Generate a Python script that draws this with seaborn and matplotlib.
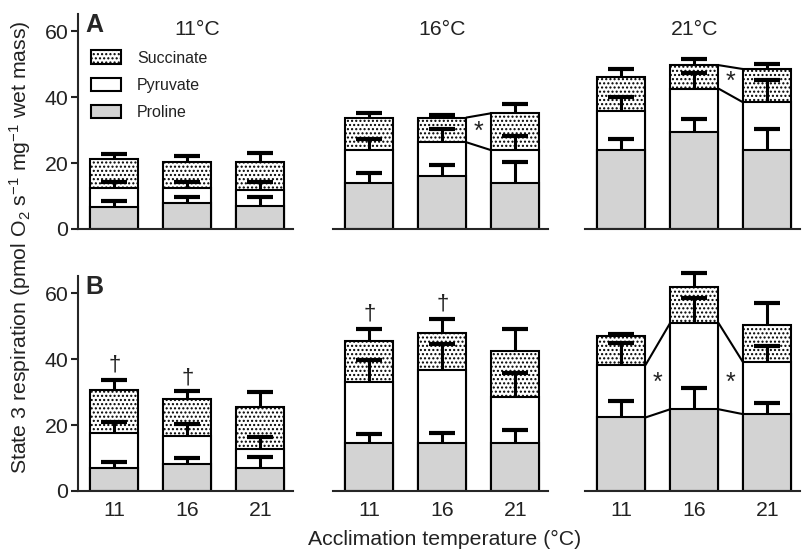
import numpy as np
import pandas as pd
import matplotlib
matplotlib.use("Agg")
import matplotlib.pyplot as plt
import matplotlib.patches as mpatches
import seaborn as sns

# acclimation temperatures (x categories) and assay temperatures (panel columns)
ACCLIM = ["11", "16", "21"]
ASSAY = ["11°C", "16°C", "21°C"]
SUBSTRATES = ["Proline", "Pyruvate", "Succinate"]

# cumulative stacked tops, [panel column][acclimation]
# row A
a_proline = [[6.8, 7.8, 7.1], [14.0, 16.0, 14.1], [23.9, 29.5, 23.9]]
a_pyruvate = [[12.4, 12.4, 11.7], [23.9, 26.3, 23.9], [35.8, 42.6, 38.4]]
a_succinate = [[21.1, 20.3, 20.3], [33.7, 33.8, 35.1], [46.2, 49.7, 48.5]]
a_proline_se = [[1.7, 1.8, 2.5], [3.1, 3.3, 6.1], [3.3, 4.0, 6.3]]
a_pyruvate_se = [[2.0, 2.0, 2.7], [3.3, 3.9, 4.3], [4.1, 4.7, 6.8]]
a_succinate_se = [[1.5, 1.8, 2.6], [1.6, 0.7, 2.7], [2.3, 1.9, 1.5]]
# row B
b_proline = [[6.9, 8.1, 6.9], [14.7, 14.5, 14.7], [22.3, 24.8, 23.3]]
b_pyruvate = [[17.7, 16.8, 12.8], [33.2, 36.7, 28.4], [38.2, 51.0, 39.0]]
b_succinate = [[30.5, 28.0, 25.4], [45.4, 47.9, 42.4], [46.9, 62.0, 50.2]]
b_proline_se = [[1.8, 1.8, 3.3], [2.7, 3.2, 3.8], [4.9, 6.4, 3.5]]
b_pyruvate_se = [[3.1, 3.4, 3.5], [6.5, 7.9, 7.3], [6.7, 7.5, 5.1]]
b_succinate_se = [[3.2, 2.2, 4.6], [3.7, 4.3, 6.7], [0.7, 4.1, 6.7]]

# significance links: (row, column, left bar index, substrate levels joined)
links = [
    (0, 1, 1, ["Pyruvate", "Succinate"]),
    (0, 2, 1, ["Pyruvate", "Succinate"]),
    (1, 2, 0, ["Proline", "Pyruvate"]),
    (1, 2, 1, ["Proline", "Pyruvate"]),
]
# asterisk marks: (row, column, x between bars, y)
stars = [(0, 1, 1.5, 29.4), (0, 2, 1.5, 44.5), (1, 2, 0.5, 32.7), (1, 2, 1.5, 32.7)]
# dagger marks: (row, column, bar, y)
daggers = [(1, 0, 0, 38.3), (1, 0, 1, 34.4), (1, 1, 0, 53.7), (1, 1, 1, 56.7)]

rows = [
    (a_proline, a_pyruvate, a_succinate, a_proline_se, a_pyruvate_se, a_succinate_se),
    (b_proline, b_pyruvate, b_succinate, b_proline_se, b_pyruvate_se, b_succinate_se),
]

sns.set_style("ticks")
plt.rcParams["font.family"] = ["Liberation Sans", "DejaVu Sans"]
plt.rcParams["mathtext.default"] = "regular"
plt.rcParams["hatch.linewidth"] = 1.0

GREY = "#d3d3d3"
HATCH = "...."
BAR_W = 0.66
LW = 1.5
TXT = "#222222"
FS = 15.3

fig = plt.figure(figsize=(8.02, 5.52), dpi=100)
W, H = 802, 552
lefts = [78, 333, 585]
bottoms = [229, 491]
ax_w, ax_h = 215, 215

axes = [[None] * 3 for _ in range(2)]
for r in range(2):
    for c in range(3):
        ax = fig.add_axes([lefts[c] / W, (H - bottoms[r]) / H, ax_w / W, ax_h / H])
        axes[r][c] = ax
        pro, pyr, suc, pro_se, pyr_se, suc_se = rows[r]
        df = pd.DataFrame({
            "acclim": ACCLIM,
            "Proline": pro[c],
            "Pyruvate": pyr[c],
            "Succinate": suc[c],
        })
        # stacked bars: draw the tallest (cumulative) first
        sns.barplot(data=df, x="acclim", y="Succinate", ax=ax, color="white",
                    saturation=1, edgecolor="black", linewidth=LW, width=BAR_W,
                    hatch=HATCH, errorbar=None)
        sns.barplot(data=df, x="acclim", y="Pyruvate", ax=ax, color="white",
                    saturation=1, edgecolor="black", linewidth=LW, width=BAR_W,
                    errorbar=None)
        sns.barplot(data=df, x="acclim", y="Proline", ax=ax, color=GREY,
                    saturation=1, edgecolor="black", linewidth=LW, width=BAR_W,
                    errorbar=None)

        xs = np.arange(len(ACCLIM))
        for tops, se in [(pro[c], pro_se[c]), (pyr[c], pyr_se[c]), (suc[c], suc_se[c])]:
            eb = ax.errorbar(xs, tops, yerr=[np.zeros(len(se)), se], fmt="none",
                             ecolor="black", elinewidth=2.2, capsize=9.7, capthick=3.0,
                             zorder=5, clip_on=False)
            # upper caps only
            eb[1][0].set_visible(False)

        ax.set_xlim(-0.5, 2.45)
        ax.set_ylim(0, 65.2)
        ax.set_xlabel("")
        ax.set_ylabel("")
        sns.despine(ax=ax, left=(c != 0))
        for s in ax.spines.values():
            s.set_linewidth(LW)
        ax.tick_params(axis="x", length=0, labelsize=FS, colors=TXT, pad=7)
        if r == 0:
            ax.set_xticklabels([])
        if c == 0:
            ax.set_yticks([0, 20, 40, 60])
            ax.tick_params(axis="y", length=5, width=LW, labelsize=FS, colors=TXT, pad=2)
        else:
            ax.set_yticks([])

        if r == 0:
            tx = 1.13 if c == 0 else 1.0
            ax.text(tx, 60.5, ASSAY[c], ha="center", va="center", fontsize=FS, color=TXT)

# connecting lines between neighbouring bars
for r, c, i, levels in links:
    ax = axes[r][c]
    tops_by = dict(zip(SUBSTRATES, rows[r][:3]))
    for lev in levels:
        y = tops_by[lev][c]
        ax.plot([i + BAR_W / 2, i + 1 - BAR_W / 2], [y[i], y[i + 1]],
                color="black", lw=LW, zorder=4)

for r, c, x, y in stars:
    axes[r][c].text(x, y, "*", ha="center", va="center", fontsize=18, color=TXT)
for r, c, i, y in daggers:
    axes[r][c].text(i, y, "†", ha="center", va="center", fontsize=16, color=TXT)

# panel letters
axes[0][0].text(-0.4, 65.6, "A", ha="left", va="top", fontsize=18, fontweight="bold")
axes[1][0].text(-0.4, 65.6, "B", ha="left", va="top", fontsize=18, fontweight="bold")

# legend
handles = [
    mpatches.Patch(facecolor="white", edgecolor="black", hatch=HATCH, linewidth=LW, label="Succinate"),
    mpatches.Patch(facecolor="white", edgecolor="black", linewidth=LW, label="Pyruvate"),
    mpatches.Patch(facecolor=GREY, edgecolor="black", linewidth=LW, label="Proline"),
]
leg = axes[0][0].legend(handles=handles, loc="upper left", bbox_to_anchor=(0.03, 0.86),
                        frameon=False, fontsize=11.5, handlelength=1.9, handleheight=0.9,
                        labelspacing=0.75, handletextpad=1.0, borderaxespad=0)
for t in leg.get_texts():
    t.set_color(TXT)

fig.text(20 / W, (H - 247) / H, "State 3 respiration (pmol O$_2$ s$^{-1}$ mg$^{-1}$ wet mass)",
         rotation=90, ha="center", va="center", fontsize=FS, color=TXT)
fig.text(445 / W, (H - 539) / H, "Acclimation temperature (°C)", ha="center", va="center",
         fontsize=FS, color=TXT)

fig.savefig("out.png", dpi=100)
